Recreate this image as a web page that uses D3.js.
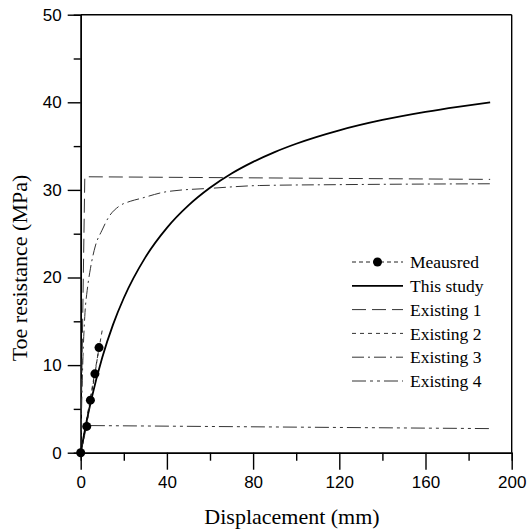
<!DOCTYPE html>
<html><head><meta charset="utf-8">
<script src="https://cdn.jsdelivr.net/npm/d3@7"></script>
<style>body{margin:0;background:#fff}svg{display:block}</style>
</head><body>
<svg id="chart" width="528" height="531"></svg>
<script>
// ---- data ----
const measuredX = [0, 2.8, 4.5, 6.6, 8.5];
const measuredY = [0, 3, 6, 9, 12];

const thisStudyX = [0, 2, 5, 10, 15, 20, 30, 40, 50, 60, 70, 80, 90, 100, 120, 140, 160, 175, 190];
const thisStudyY = [0, 2.67, 6.15, 10.87, 14.62, 17.66, 22.3, 25.67, 28.23, 30.24, 31.87, 33.2, 34.32, 35.27, 36.8, 37.98, 38.91, 39.49, 40.0];

const existing1X = [0, 1.9, 190];
const existing1Y = [0, 31.5, 31.2];

const existing2X = [0, 10];
const existing2Y = [0, 14];

const existing3X = [0, 0.5, 1, 2, 3, 4.5, 6.8, 9.9, 13, 17.6, 23, 27.5, 40, 61.5, 83, 120, 190];
const existing3Y = [0, 6, 10.5, 16, 18.5, 21, 23.6, 25.4, 26.9, 28.1, 28.7, 29, 29.8, 30.2, 30.5, 30.6, 30.7];

const existing4X = [0, 2.8, 190];
const existing4Y = [0, 3.1, 2.75];

const legendLabels = ["Meausred", "This study", "Existing 1", "Existing 2", "Existing 3", "Existing 4"];

const xMajorTicks = [0, 40, 80, 120, 160, 200];
const xMinorTicks = [20, 60, 100, 140, 180];
const yMajorTicks = [0, 10, 20, 30, 40, 50];
const yMinorTicks = [5, 15, 25, 35, 45];

// ---- layout ----
const svg = d3.select("#chart");
const x = d3.scaleLinear().domain([0, 200]).range([80.7, 511.7]);
const y = d3.scaleLinear().domain([0, 50]).range([452.7, 14.7]);

const tickFont = "'Liberation Sans', Arial, sans-serif";
const serif = "'Liberation Serif', 'Times New Roman', serif";

function styleAxis(g, size) {
  g.selectAll("path.domain").attr("stroke", "#000").attr("stroke-width", 1.4);
  g.selectAll(".tick line").attr("stroke", "#000").attr("stroke-width", 1.4);
  g.selectAll(".tick text").attr("font-family", tickFont).attr("font-size", size).attr("fill", "#000");
}

// minor ticks
svg.append("g").attr("transform", `translate(0,${y(0)})`)
  .call(d3.axisBottom(x).tickValues(xMinorTicks).tickSize(8).tickFormat(""))
  .call(g => styleAxis(g, 17));
svg.append("g").attr("transform", `translate(${x(0)},0)`)
  .call(d3.axisLeft(y).tickValues(yMinorTicks).tickSize(7).tickFormat(""))
  .call(g => styleAxis(g, 17));

// major ticks
svg.append("g").attr("transform", `translate(0,${y(0)})`)
  .call(d3.axisBottom(x).tickValues(xMajorTicks).tickSize(17).tickPadding(6).tickSizeOuter(0).tickFormat(d3.format("d")))
  .call(g => styleAxis(g, 17));
svg.append("g").attr("transform", `translate(${x(0)},0)`)
  .call(d3.axisLeft(y).tickValues(yMajorTicks).tickSize(13).tickPadding(6).tickSizeOuter(0).tickFormat(d3.format("d")))
  .call(g => styleAxis(g, 17));

// frame top & right
svg.append("line").attr("x1", x(0)).attr("x2", x(200)).attr("y1", y(50)).attr("y2", y(50))
  .attr("stroke", "#000").attr("stroke-width", 1.4);
svg.append("line").attr("x1", x(200)).attr("x2", x(200)).attr("y1", y(50)).attr("y2", y(0))
  .attr("stroke", "#000").attr("stroke-width", 1.4);

// axis titles
svg.append("text").attr("x", 292).attr("y", 524)
  .attr("text-anchor", "middle").attr("font-family", serif).attr("font-size", 22)
  .text("Displacement (mm)");
svg.append("text").attr("transform", `translate(27,268) rotate(-90)`)
  .attr("text-anchor", "middle").attr("font-family", serif).attr("font-size", 22)
  .text("Toe resistance (MPa)");

// ---- series ----
const zip = (xs, ys) => xs.map((d, i) => [d, ys[i]]);
const lineStraight = d3.line().x(d => x(d[0])).y(d => y(d[1]));
const lineSmooth = d3.line().x(d => x(d[0])).y(d => y(d[1])).curve(d3.curveMonotoneX);

const styles = {
  measured: { dash: "4,3", w: 1, c: "#222" },
  study: { dash: null, w: 1.8, c: "#000" },
  e1: { dash: "14,6", w: 1, c: "#333" },
  e2: { dash: "4,4", w: 1, c: "#333" },
  e3: { dash: "12,4,2,4", w: 1, c: "#333" },
  e4: { dash: "14,4,3,4,3,4", w: 1, c: "#333" }
};

function drawLine(data, gen, st) {
  svg.append("path").datum(data).attr("d", gen).attr("fill", "none")
    .attr("stroke", st.c).attr("stroke-width", st.w)
    .attr("stroke-dasharray", st.dash);
}

drawLine(zip(existing4X, existing4Y), lineStraight, styles.e4);
drawLine(zip(existing1X, existing1Y), lineStraight, styles.e1);
drawLine(zip(existing2X, existing2Y), lineStraight, styles.e2);
drawLine(zip(existing3X, existing3Y), lineSmooth, styles.e3);
drawLine(zip(thisStudyX, thisStudyY), lineSmooth, styles.study);
drawLine(zip(measuredX, measuredY), lineStraight, styles.measured);

svg.append("g").selectAll("circle").data(zip(measuredX, measuredY)).join("circle")
  .attr("cx", d => x(d[0])).attr("cy", d => y(d[1])).attr("r", 4.5).attr("fill", "#000");

// ---- legend ----
const legStyles = [styles.measured, styles.study, styles.e1, styles.e2, styles.e3, styles.e4];
const legY0 = 262, legStep = 23.8, lx1 = 352, lx2 = 403, tx = 410;
const leg = svg.append("g");
legendLabels.forEach((lab, i) => {
  const yy = legY0 + i * legStep;
  const st = legStyles[i];
  leg.append("line").attr("x1", lx1).attr("x2", lx2).attr("y1", yy).attr("y2", yy)
    .attr("stroke", st.c).attr("stroke-width", st.w).attr("stroke-dasharray", st.dash);
  if (i === 0) leg.append("circle").attr("cx", (lx1 + lx2) / 2).attr("cy", yy).attr("r", 4.5).attr("fill", "#000");
  leg.append("text").attr("x", tx).attr("y", yy).attr("dy", "0.35em")
    .attr("font-family", serif).attr("font-size", 17.5).text(lab);
});
</script>
</body></html>
